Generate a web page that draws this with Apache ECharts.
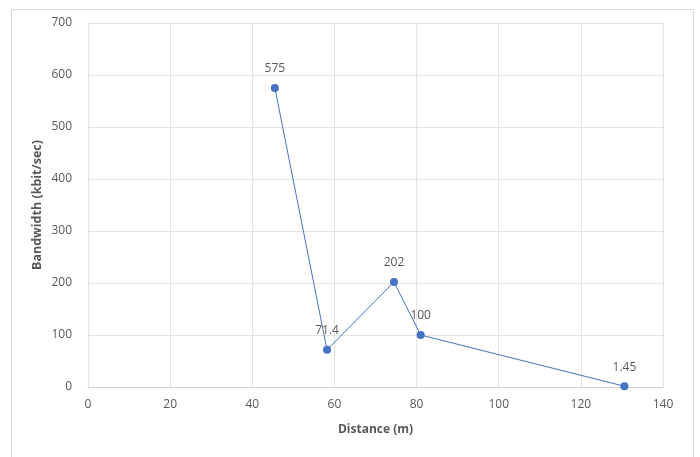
<!DOCTYPE html>
<html>
<head>
<meta charset="utf-8">
<script src="https://cdn.jsdelivr.net/npm/echarts@6/dist/echarts.min.js"></script>
<style>html,body{margin:0;padding:0;background:#fff;}#c{width:700px;height:457px;}</style>
</head>
<body>
<div id="c"></div>
<script>
var distances = [45.5, 58.2, 74.5, 81.0, 130.6];
var bandwidth = [575, 71.4, 202, 100, 1.45];
var pointLabels = ['575', '71.4', '202', '100', '1.45'];
var xTitle = 'Distance (m)';
var yTitle = 'Bandwidth (kbit/sec)';

var chart = echarts.init(document.getElementById('c'), null, {renderer: 'canvas'});
var data = distances.map(function (d, i) { return [d, bandwidth[i]]; });
var font = '"Open Sans", "Liberation Sans", sans-serif';
chart.setOption({
  animation: false,
  backgroundColor: '#fff',
  graphic: [{
    type: 'rect', left: 9, top: 7,
    shape: {width: 682, height: 449},
    style: {fill: 'none', stroke: '#d9d9d9', lineWidth: 1}, silent: true
  }],
  grid: {left: 88, right: 37, top: 23, bottom: 70},
  xAxis: {
    type: 'value', min: 0, max: 140, interval: 20,
    name: xTitle, nameLocation: 'middle', nameGap: 37, nameMoveOverlap: false,
    nameTextStyle: {fontFamily: font, fontWeight: 'bold', fontSize: 12, color: '#595959'},
    axisLine: {show: true, lineStyle: {color: '#d0d0d0'}},
    axisTick: {show: false},
    axisLabel: {fontFamily: font, fontSize: 12, color: '#595959', margin: 12},
    splitLine: {show: true, lineStyle: {color: '#e3e3e3'}}
  },
  yAxis: {
    type: 'value', min: 0, max: 700, interval: 100,
    name: yTitle, nameLocation: 'middle', nameGap: 44, nameMoveOverlap: false,
    nameTextStyle: {fontFamily: font, fontWeight: 'bold', fontSize: 12.5, color: '#595959'},
    axisLine: {show: false},
    axisTick: {show: false},
    axisLabel: {fontFamily: font, fontSize: 12, color: '#595959', margin: 16},
    splitLine: {show: true, lineStyle: {color: '#e3e3e3'}}
  },
  series: [{
    type: 'line',
    data: data,
    symbol: 'circle', symbolSize: 8,
    itemStyle: {color: '#4472C4'},
    lineStyle: {color: '#4472C4', width: 1},
    label: {
      show: true, position: 'top', distance: 9,
      fontFamily: font, fontSize: 12, color: '#595959',
      formatter: function (p) { return pointLabels[p.dataIndex]; }
    }
  }]
});
</script>
</body>
</html>
